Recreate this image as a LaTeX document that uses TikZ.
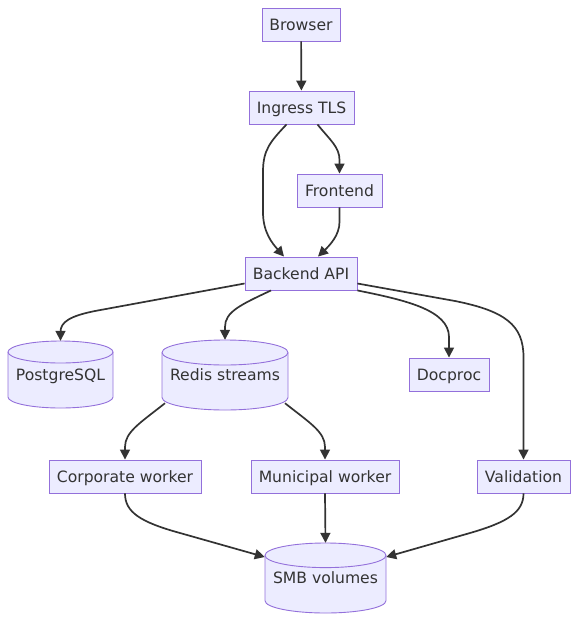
\documentclass[tikz,border=0pt]{standalone}
\usepackage{fontspec}
\setmainfont{DejaVu Sans}
\usetikzlibrary{arrows.meta,calc}
\definecolor{boxfill}{HTML}{ECECFF}
\definecolor{boxline}{HTML}{9370DB}
\definecolor{edgecol}{HTML}{333333}
\definecolor{txtcol}{HTML}{333333}
\newcommand\mydb[5]{% cx, top, half width, bottom, ry
 \pgfmathsetmacro\xl{#1-#3}\pgfmathsetmacro\xr{#1+#3}%
 \pgfmathsetmacro\yt{#2+#5}\pgfmathsetmacro\yb{#4-#5}%
 \pgfmathsetmacro\kx{0.5523*#3}\pgfmathsetmacro\ky{0.5523*#5}%
 \draw[dbst] (\xl,\yt) -- (\xl,\yb) .. controls (\xl,\yb+\ky) and (#1-\kx,#4) .. (#1,#4) .. controls (#1+\kx,#4) and (\xr,\yb+\ky) .. (\xr,\yb) -- (\xr,\yt) .. controls (\xr,\yt-\ky) and (#1+\kx,#2) .. (#1,#2) .. controls (#1-\kx,#2) and (\xl,\yt-\ky) .. cycle;
 \draw[dbst,fill=none] (\xl,\yt) .. controls (\xl,\yt+\ky) and (#1-\kx,\yt+#5) .. (#1,\yt+#5) .. controls (#1+\kx,\yt+#5) and (\xr,\yt+\ky) .. (\xr,\yt);
}
\tikzset{
  box/.style={draw=boxline, fill=boxfill, line width=0.9pt, minimum height=33pt, inner xsep=1pt, inner ysep=0pt, text height=11.4pt, text depth=0pt, text=txtcol, font=\fontsize{15.6}{17}\selectfont},
  dbst/.style={draw=boxline, fill=boxfill, line width=0.9pt},
  dbtext/.style={inner sep=0pt, text height=11.4pt, text depth=0pt, text=txtcol, font=\fontsize{15.6}{17}\selectfont},
  edge/.style={draw=edgecol, line width=1.7pt, -{Triangle[length=10pt,width=10pt]}}
}
\begin{document}
\begin{tikzpicture}[x=1pt,y=-1pt]
\useasboundingbox (0,0) rectangle (586,630);
% rectangular nodes
\node[box, minimum width=78pt] (browser) at (301,24.5) {Browser};
\node[box, minimum width=105pt] (ingress) at (301.5,107.5) {Ingress TLS};
\node[box, minimum width=85pt] (frontend) at (339.5,190.5) {Frontend};
\node[box, minimum width=112pt] (backend) at (301,273.5) {Backend API};
\node[box, minimum width=80pt] (docproc) at (449,374.5) {Docproc};
\node[box, minimum width=152pt] (corp) at (125,476.5) {Corporate worker};
\node[box, minimum width=148pt] (muni) at (325,476.5) {Municipal worker};
\node[box, minimum width=93pt] (valid) at (523.5,476.5) {Validation};
% cylinders
\mydb{60.5}{341}{52.5}{408}{11}
\mydb{225}{340}{63}{410}{12.5}
\mydb{325.5}{543}{60.5}{613}{12.3}
\node[dbtext, minimum width=105pt, minimum height=67pt] (pg) at (60.5,374.5) {PostgreSQL};
\node[dbtext, minimum width=126pt, minimum height=70pt] (redis) at (225,375) {Redis streams};
\node[dbtext, minimum width=121pt, minimum height=70pt] (smb) at (325.5,578) {SMB volumes};
% edges
\draw[edge] (browser) -- (ingress);
\draw[edge] ($(ingress.south)+(-15,0)$) .. controls (270,142) and (263,150) .. (263,172) -- (263,212) .. controls (263,232) and (272,243) .. ($(backend.north)+(-17,0)$);
\draw[edge] ($(ingress.south)+(16,0)$) .. controls (330,140) and (339.5,147) .. (339.5,160) -- (frontend.north);
\draw[edge] (frontend.south) -- (339.5,222) .. controls (339.5,235) and (330,245) .. ($(backend.north)+(17,0)$);
\draw[edge] ($(backend.west)+(0,10)$) -- (95,311) .. controls (70,316) and (60.5,322) .. (60.5,332) -- (pg.north);
\draw[edge] ($(backend.south)+(-30,0)$) .. controls (240,305) and (225,312) .. (225,327) -- (redis.north);
\draw[edge] (backend.south east) .. controls (405,300) and (449,310) .. (449,337) -- (docproc.north);
\draw[edge] ($(backend.east)+(0,10)$) -- (455,301) .. controls (505,311) and (523.5,325) .. (523.5,357) -- (valid.north);
\draw[edge] ($(redis.south)+(-60,-7)$) .. controls (140,423) and (125,432) .. (125,447) -- (corp.north);
\draw[edge] ($(redis.south)+(60,-7)$) .. controls (310,423) and (325,432) .. (325,447) -- (muni.north);
\draw[edge] (corp.south) .. controls (125,512) and (140,522) .. (180,533) -- ($(smb.west)+(0,-21)$);
\draw[edge] (muni.south) -- (smb.north);
\draw[edge] (valid.south) .. controls (523.5,512) and (508,522) .. (470,533) -- ($(smb.east)+(0,-21)$);
\end{tikzpicture}
\end{document}
